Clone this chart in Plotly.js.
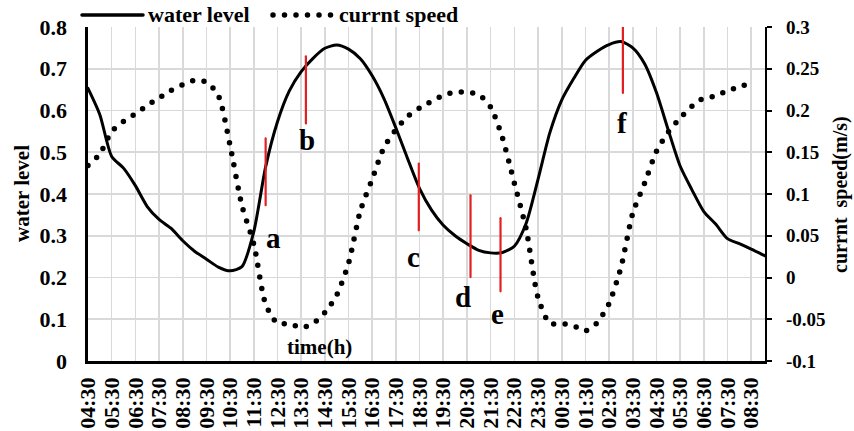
<!DOCTYPE html>
<html>
<head>
<meta charset="utf-8">
<script src="https://cdn.plot.ly/plotly-3.0.1.min.js"></script>
<style>
  html, body { margin: 0; padding: 0; background: #fff; }
  #chart { width: 854px; height: 431px; }
  /* round caps turn zero-length dashes into round dots */
  .scatterlayer .js-line, .shapelayer path { stroke-linecap: round; }
</style>
</head>
<body>
<div id="chart"></div>
<script>
// Sampling times (clock time, half-hourly, running over midnight)
const sampleTimes = [
  '04:30','05:00','05:30','06:00','06:30','07:00','07:30','08:00','08:30','09:00',
  '09:30','10:00','10:30','11:00','11:30','12:00','12:30','13:00','13:30','14:00',
  '14:30','15:00','15:30','16:00','16:30','17:00','17:30','18:00','18:30','19:00',
  '19:30','20:00','20:30','21:00','21:30','22:00','22:30','23:00','23:30','00:00',
  '00:30','01:00','01:30','02:00','02:30','03:00','03:30','04:00','04:30','05:00',
  '05:30','06:00','06:30','07:00','07:30','08:00','08:30'
];
const levelTimes = sampleTimes.concat(['09:05']);

// Water level (left axis)
const waterLevel = [
  0.653, 0.590, 0.490, 0.462, 0.420, 0.370, 0.339, 0.318, 0.288, 0.263,
  0.244, 0.225, 0.216, 0.226, 0.310, 0.465, 0.573, 0.647, 0.693, 0.725,
  0.749, 0.757, 0.747, 0.724, 0.683, 0.628, 0.558, 0.484, 0.413, 0.362,
  0.325, 0.300, 0.281, 0.265, 0.259, 0.260, 0.275, 0.330, 0.435, 0.547,
  0.625, 0.676, 0.720, 0.742, 0.758, 0.765, 0.750, 0.712, 0.643, 0.553,
  0.467, 0.410, 0.358, 0.328, 0.293, 0.281, 0.268, 0.252
];

// Current speed in m/s (right axis)
const currentSpeed = [
  0.134, 0.148, 0.175, 0.187, 0.196, 0.206, 0.215, 0.224, 0.231, 0.236,
  0.234, 0.218, 0.158, 0.086, 0.040, -0.032, -0.055, -0.055, -0.060, -0.055,
  -0.042, -0.021, 0.017, 0.080, 0.118, 0.156, 0.177, 0.193, 0.203, 0.211,
  0.218, 0.222, 0.222, 0.219, 0.204, 0.167, 0.113, 0.058, -0.024, -0.055,
  -0.055, -0.058, -0.064, -0.054, -0.031, 0.012, 0.077, 0.113, 0.151, 0.174,
  0.191, 0.205, 0.215, 0.217, 0.224, 0.228, 0.234
];

// Hourly tick labels on the time axis
const timeTicks = [
  '04:30','05:30','06:30','07:30','08:30','09:30','10:30','11:30','12:30','13:30',
  '14:30','15:30','16:30','17:30','18:30','19:30','20:30','21:30','22:30','23:30',
  '00:30','01:30','02:30','03:30','04:30','05:30','06:30','07:30','08:30'
];
const levelTicks = [0, 0.1, 0.2, 0.3, 0.4, 0.5, 0.6, 0.7, 0.8];
const levelTickText = ['0', '0.1', '0.2', '0.3', '0.4', '0.5', '0.6', '0.7', '0.8'];
const speedTicks = [-0.1, -0.05, 0, 0.05, 0.1, 0.15, 0.2, 0.25, 0.3];
const speedTickText = ['-0.1', '-0.05', '0', '0.05', '0.1', '0.15', '0.2', '0.25', '0.3'];

// Marked instants a–f
const markLabels = ['a', 'b', 'c', 'd', 'e', 'f'];
const markTimes  = ['12:00', '13:42', '18:28', '20:39', '21:55', '03:05'];

// Clock strings -> hours elapsed since 04:30 on the first day (day rollover aware)
function toHours(list) {
  const out = [];
  let dayShift = 0, prev = -1;
  const base = 4 * 60 + 30;
  list.forEach(t => {
    const [h, m] = t.split(':').map(Number);
    let mins = h * 60 + m;
    if (prev >= 0 && mins + dayShift < prev) dayShift += 24 * 60;
    mins += dayShift;
    prev = mins;
    out.push((mins - base) / 60);
  });
  return out;
}

const sampleHours = toHours(sampleTimes);
const levelHours = toHours(levelTimes);
const tickHours = toHours(timeTicks);
const markHours = toHours(['04:30'].concat(markTimes)).slice(1);

const FONT = 'Liberation Serif, Times New Roman, serif';
const bold = (size) => ({ family: FONT, size: size, color: '#000', weight: 700 });

// pixel helpers for paper-anchored decorations
const L = 88, R = 89, T = 27, B = 70, W = 854, H = 431;
const pw = W - L - R, ph = H - T - B;
const px = (x) => (x - L) / pw;
const py = (y) => (H - B - y) / ph;

const traces = [
  {
    x: levelHours, y: waterLevel, type: 'scatter', mode: 'lines',
    name: 'water level', yaxis: 'y',
    line: { color: '#000', width: 3, shape: 'spline', smoothing: 0.7 },
    showlegend: false, hoverinfo: 'skip'
  },
  {
    x: sampleHours, y: currentSpeed, type: 'scatter', mode: 'lines',
    name: 'currnt speed', yaxis: 'y2',
    line: { color: '#000', width: 5.5, dash: '0px,11.5px', shape: 'spline', smoothing: 0.7 },
    showlegend: false, hoverinfo: 'skip'
  }
];

// red bars (water-level span) and letters for the marked instants
const barSpans = [[0.373, 0.533], [0.569, 0.730], [0.313, 0.473], [0.201, 0.397], [0.167, 0.342], [0.642, 0.805]];
const letterPos = [[0.33, -0.078], [0.03, -0.04], [-0.24, -0.064], [-0.33, -0.048], [-0.14, -0.054], [-0.02, -0.073]];

const shapes = [];
const annotations = [];
markLabels.forEach((lab, i) => {
  shapes.push({
    type: 'line', xref: 'x', yref: 'y',
    x0: markHours[i], x1: markHours[i], y0: barSpans[i][0], y1: barSpans[i][1],
    line: { color: 'rgb(226,32,32)', width: 2.2 }
  });
  annotations.push({
    text: lab, xref: 'x', yref: 'y',
    x: markHours[i] + letterPos[i][0], y: barSpans[i][0] + letterPos[i][1],
    showarrow: false, font: bold(29), xanchor: 'center', yanchor: 'middle'
  });
});

// legend drawn along the top edge
shapes.push({
  type: 'line', xref: 'paper', yref: 'paper',
  x0: px(82), x1: px(143), y0: py(15), y1: py(15),
  line: { color: '#000', width: 3.5 }
});
shapes.push({
  type: 'line', xref: 'paper', yref: 'paper',
  x0: px(273), x1: px(331), y0: py(15), y1: py(15),
  line: { color: '#000', width: 5.5, dash: '0px,11.5px' }
});
annotations.push({
  text: 'water level', xref: 'paper', yref: 'paper', x: px(146), y: py(15),
  xanchor: 'left', yanchor: 'middle', showarrow: false, font: bold(22)
});
annotations.push({
  text: 'currnt speed', xref: 'paper', yref: 'paper', x: px(337), y: py(15),
  xanchor: 'left', yanchor: 'middle', showarrow: false, font: bold(22)
});

// axis titles
annotations.push({
  text: 'water level', xref: 'paper', yref: 'paper', x: px(22), y: 0.5,
  textangle: -90, xanchor: 'center', yanchor: 'middle', showarrow: false, font: bold(21)
});
annotations.push({
  text: 'currnt  speed(m/s)', xref: 'paper', yref: 'paper', x: px(840), y: py(195),
  textangle: -90, xanchor: 'center', yanchor: 'middle', showarrow: false, font: bold(20)
});
annotations.push({
  text: 'time(h)', xref: 'paper', yref: 'paper', x: px(319), y: py(347),
  xanchor: 'center', yanchor: 'middle', showarrow: false, font: bold(21)
});

const layout = {
  width: W, height: H,
  margin: { l: L, r: R, t: T, b: B, pad: 0 },
  paper_bgcolor: '#fff', plot_bgcolor: '#fff',
  showlegend: false,
  xaxis: {
    range: [0, levelHours[levelHours.length - 1]],
    tickmode: 'array', tickvals: tickHours, ticktext: timeTicks,
    tickangle: -90, tickfont: bold(22), ticks: '', ticklabelstandoff: 5,
    showgrid: true, gridcolor: '#d9d9d9', gridwidth: 1.6,
    showline: true, linecolor: '#000', linewidth: 2.6,
    zeroline: false, fixedrange: true
  },
  yaxis: {
    range: [0, 0.8],
    tickmode: 'array', tickvals: levelTicks, ticktext: levelTickText,
    tickfont: bold(22), ticks: '', ticklabelstandoff: 14,
    showgrid: true, gridcolor: '#d9d9d9', gridwidth: 1.6,
    showline: true, linecolor: '#000', linewidth: 2.6,
    zeroline: false, fixedrange: true
  },
  yaxis2: {
    overlaying: 'y', side: 'right',
    range: [-0.1, 0.3],
    tickmode: 'array', tickvals: speedTicks, ticktext: speedTickText,
    tickfont: bold(19), ticks: 'outside', ticklen: 5, tickwidth: 2, tickcolor: '#000',
    ticklabelstandoff: 10,
    showgrid: false, showline: true, linecolor: '#000', linewidth: 2.2,
    zeroline: false, fixedrange: true
  },
  shapes: shapes,
  annotations: annotations
};

Plotly.newPlot('chart', traces, layout, { staticPlot: true, displayModeBar: false });
</script>
</body>
</html>
